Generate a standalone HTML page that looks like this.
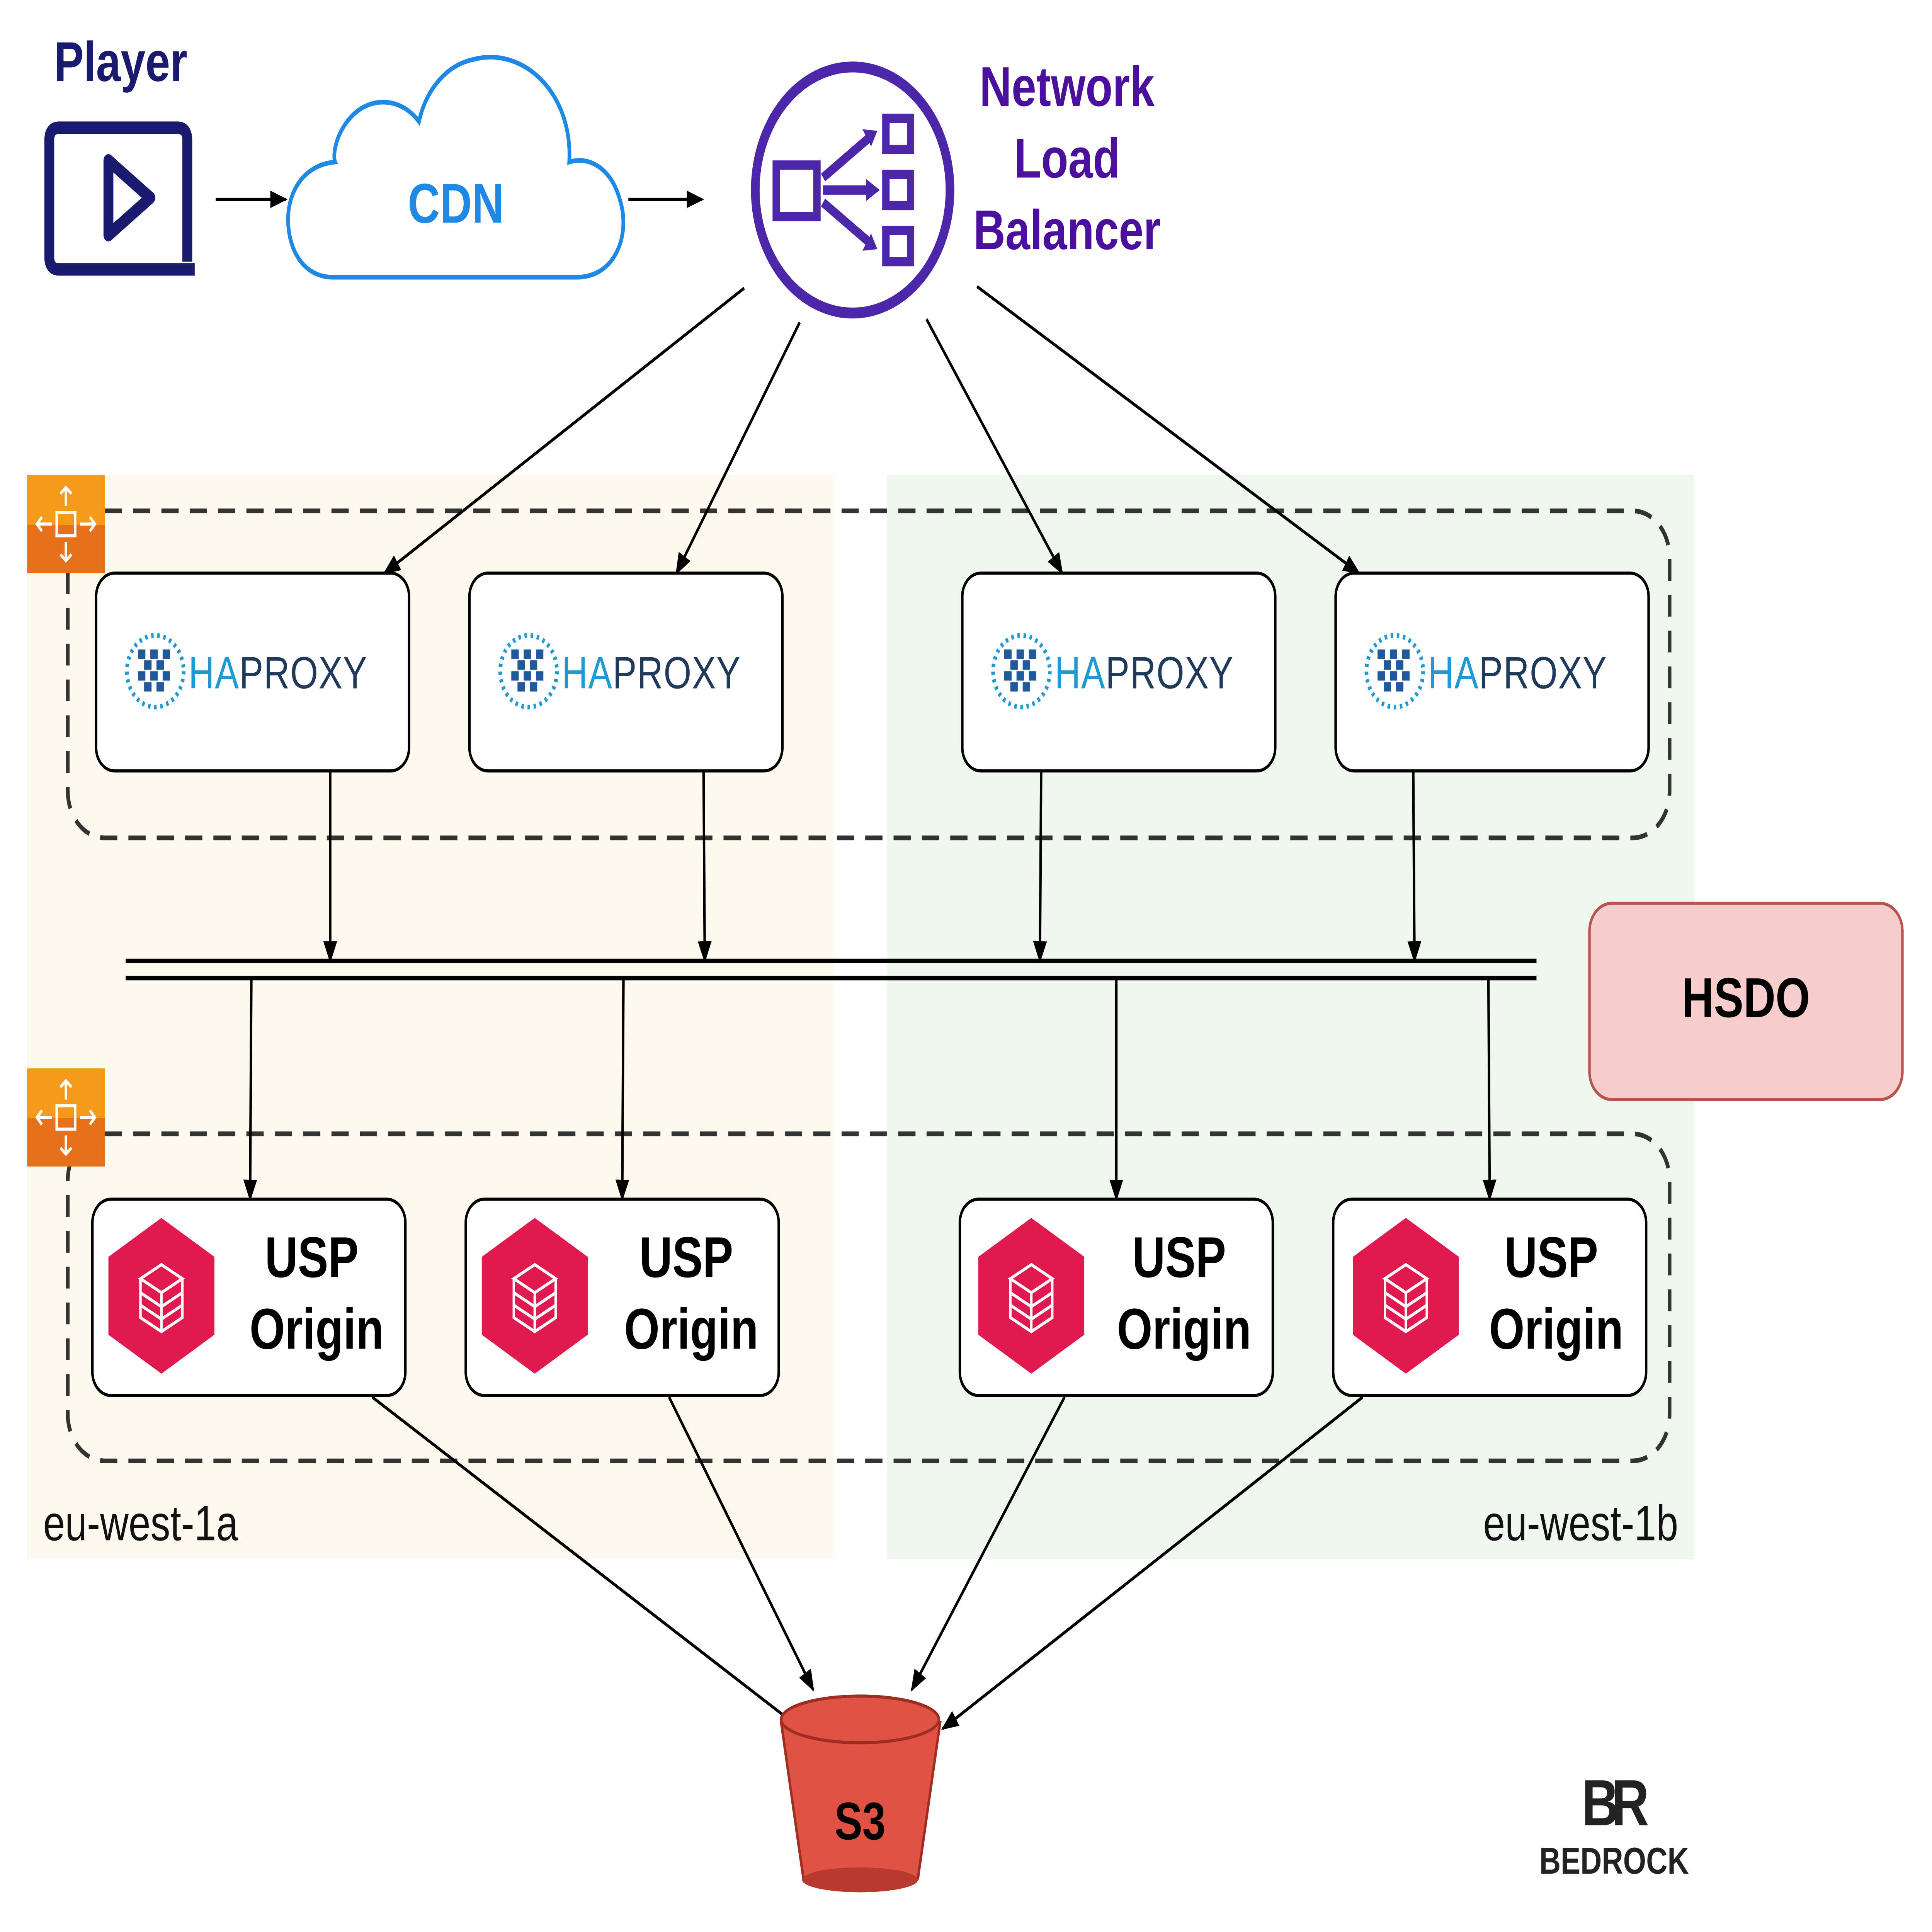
<!DOCTYPE html>
<html><head><meta charset="utf-8"><style>
html,body{margin:0;padding:0;background:#fff;width:100%;height:100%;overflow:hidden}
svg{display:block;width:100vw;height:100vh;position:absolute;left:0;top:0}
text{font-family:"Liberation Sans",Arial,sans-serif}
</style></head><body>
<svg viewBox="0 0 1568 1240.5" preserveAspectRatio="none" xmlns="http://www.w3.org/2000/svg">
<defs>
<marker id="b" viewBox="0 0 10 10" refX="9" refY="5" markerWidth="14" markerHeight="14" orient="auto" markerUnits="userSpaceOnUse"><path d="M0,1 L10,5 L0,9 z" fill="#000"/></marker>
<g id="hap">
<circle cx="0" cy="0" r="23" fill="none" stroke="#1d9ad6" stroke-width="3" stroke-dasharray="2 3"/>
<g fill="#1f5a9a">
<rect x="-14" y="-14" width="6" height="6"/><rect x="-4" y="-14" width="6" height="6"/><rect x="6" y="-14" width="6" height="6"/>
<rect x="-9" y="-7" width="6" height="6"/><rect x="1" y="-7" width="6" height="6"/><rect x="-14" y="0" width="6" height="6"/>
<rect x="-4" y="0" width="6" height="6"/><rect x="6" y="0" width="6" height="6"/><rect x="-9" y="7" width="6" height="6"/><rect x="1" y="7" width="6" height="6"/>
</g>
<text x="27" y="11" font-size="29" letter-spacing="0.5"><tspan fill="#1d9ad6">HA</tspan><tspan fill="#1f3a5a">PROXY</tspan></text>
</g>
<g id="usp">
<polygon points="0,-50 43,-25 43,25 0,50 -43,25 -43,-25" fill="#e01a4f"/>
<g fill="none" stroke="#fff" stroke-width="2">
<polygon points="0,-20 17,-11 0,-2 -17,-11"/>
<path d="M-17,-11 V14 L0,23 L17,14 V-11 M0,-2 V23 M-17,-2 L0,7 L17,-2 M-17,6 L0,15 L17,6"/>
</g>
</g>
<g id="asg">
<rect width="63" height="63" fill="#e7711b"/>
<rect width="63" height="32" fill="#f49a1a"/>
<g stroke="#fff" stroke-width="2" fill="none">
<rect x="24" y="24" width="15" height="15"/>
<path d="M31.5,8 V20 M27,12 L31.5,8 L36,12 M31.5,55 V43 M27,51 L31.5,55 L36,51 M8,31.5 H20 M12,27 L8,31.5 L12,36 M55,31.5 H43 M51,27 L55,31.5 L51,36"/>
</g>
</g>
</defs>

<rect x="22" y="305" width="655" height="696" fill="#fdf9ee"/>
<rect x="720" y="305" width="655" height="696" fill="#eff6ee"/>
<text x="35" y="989" font-size="32" fill="#111">eu-west-1a</text>
<text x="1362" y="989" font-size="32" fill="#111" text-anchor="end">eu-west-1b</text>

<rect x="55" y="328" width="1300" height="210" rx="30" fill="none" stroke="#333" stroke-width="3" stroke-dasharray="14 9"/>
<rect x="55" y="728" width="1300" height="210" rx="30" fill="none" stroke="#333" stroke-width="3" stroke-dasharray="14 9"/>
<use href="#asg" x="22" y="305"/>
<use href="#asg" x="22" y="686"/>

<text x="98" y="52" font-size="36" font-weight="bold" fill="#1a1a6e" text-anchor="middle">Player</text>
<path d="M152,168 V90 Q152,82 144,82 H48 Q40,82 40,90 V165 Q40,173 48,173 H158" fill="none" stroke="#1a1a6e" stroke-width="8"/>
<path d="M88,103 L122,127 L88,151 Z" fill="none" stroke="#1a1a6e" stroke-width="8" stroke-linejoin="round"/>
<line x1="175" y1="128" x2="232" y2="128" stroke="#000" stroke-width="2" marker-end="url(#b)"/>

<path d="M270,178 H468 C500,178 512,150 503,128 C496,108 478,100 462,104 C465,60 425,30 385,38 C360,42 345,60 340,78 C325,62 300,62 285,75 C272,86 270,100 272,104 C245,106 232,125 234,145 C236,165 250,178 270,178 Z" fill="#fff" stroke="#1e88e5" stroke-width="3"/>
<text x="370" y="143" font-size="36" font-weight="bold" fill="#1e88e5" text-anchor="middle">CDN</text>
<line x1="510" y1="128" x2="570" y2="128" stroke="#000" stroke-width="2" marker-end="url(#b)"/>

<circle cx="692" cy="122" r="79" fill="#fff" stroke="#4d27aa" stroke-width="7"/>
<g fill="none" stroke="#4d27aa" stroke-width="6">
<rect x="630" y="106" width="33" height="33"/>
<rect x="719" y="76" width="20" height="20"/><rect x="719" y="112" width="20" height="20"/><rect x="719" y="148" width="20" height="20"/>
<path d="M668,114 L706,88 M668,122 H708 M668,130 L706,156"/>
</g>
<g fill="#4d27aa"><path d="M712,84 L700,83 L707,94 Z"/><path d="M714,122 L703,115 L703,129 Z"/><path d="M712,160 L707,150 L700,161 Z"/></g>
<g font-size="36" font-weight="bold" fill="#4b0f9e" text-anchor="middle">
<text x="866" y="68">Network</text><text x="866" y="114">Load</text><text x="866" y="160">Balancer</text></g>

<g stroke="#000" stroke-width="2" marker-end="url(#b)">
<line x1="604" y1="185" x2="312" y2="368"/>
<line x1="649" y1="207" x2="549" y2="368"/>
<line x1="752" y1="205" x2="862" y2="368"/>
<line x1="793" y1="184" x2="1103" y2="368"/>
</g>

<g fill="#fff" stroke="#000" stroke-width="2">
<rect x="78" y="368" width="254" height="127" rx="15"/>
<rect x="381" y="368" width="254" height="127" rx="15"/>
<rect x="781" y="368" width="254" height="127" rx="15"/>
<rect x="1084" y="368" width="254" height="127" rx="15"/>
</g>
<use href="#hap" x="126" y="431"/>
<use href="#hap" x="429" y="431"/>
<use href="#hap" x="829" y="431"/>
<use href="#hap" x="1132" y="431"/>

<line x1="102" y1="617" x2="1247" y2="617" stroke="#000" stroke-width="3"/>
<line x1="102" y1="628" x2="1247" y2="628" stroke="#000" stroke-width="3"/>
<g stroke="#000" stroke-width="2" marker-end="url(#b)">
<line x1="268" y1="495" x2="268" y2="617"/>
<line x1="571" y1="495" x2="572" y2="617"/>
<line x1="845" y1="495" x2="844" y2="617"/>
<line x1="1147" y1="495" x2="1148" y2="617"/>
<line x1="204" y1="628" x2="203" y2="770"/>
<line x1="506" y1="628" x2="505" y2="770"/>
<line x1="906" y1="628" x2="906" y2="770"/>
<line x1="1208" y1="628" x2="1209" y2="770"/>
</g>

<rect x="1290" y="580" width="254" height="126" rx="18" fill="#f8cecc" stroke="#b85450" stroke-width="2"/>
<text x="1417" y="653" font-size="36" font-weight="bold" fill="#000" text-anchor="middle">HSDO</text>

<g fill="#fff" stroke="#000" stroke-width="2">
<rect x="75" y="770" width="254" height="126" rx="15"/>
<rect x="378" y="770" width="254" height="126" rx="15"/>
<rect x="779" y="770" width="254" height="126" rx="15"/>
<rect x="1082" y="770" width="254" height="126" rx="15"/>
</g>
<use href="#usp" x="131" y="832"/>
<use href="#usp" x="434" y="832"/>
<use href="#usp" x="837" y="832"/>
<use href="#usp" x="1141" y="832"/>
<g font-size="37" font-weight="bold" fill="#000" text-anchor="middle">
<text x="253" y="820">USP</text><text x="257" y="866">Origin</text>
<text x="557" y="820">USP</text><text x="561" y="866">Origin</text>
<text x="957" y="820">USP</text><text x="961" y="866">Origin</text>
<text x="1259" y="820">USP</text><text x="1263" y="866">Origin</text>
</g>

<g stroke="#000" stroke-width="2" marker-end="url(#b)">
<line x1="302" y1="897" x2="650" y2="1110"/>
<line x1="543" y1="897" x2="660" y2="1085"/>
<line x1="864" y1="897" x2="740" y2="1085"/>
<line x1="1106" y1="897" x2="765" y2="1110"/>
</g>

<path d="M634,1106 L652,1206 Q698,1222 745,1206 L763,1106 Z" fill="#e05243" stroke="#9e2d22" stroke-width="2"/>
<ellipse cx="698" cy="1207" rx="47" ry="8" fill="#b83a2e"/>
<ellipse cx="698" cy="1104" rx="64" ry="15" fill="#e05243" stroke="#9e2d22" stroke-width="2"/>
<text x="698" y="1181" font-size="34" font-weight="bold" fill="#000" text-anchor="middle">S3</text>

<text x="1308" y="1172" font-size="42" font-weight="bold" fill="#222" text-anchor="middle" letter-spacing="-6">BR</text>
<text x="1310" y="1203" font-size="24" font-weight="bold" fill="#222" text-anchor="middle">BEDROCK</text>
</svg>
</body></html>
